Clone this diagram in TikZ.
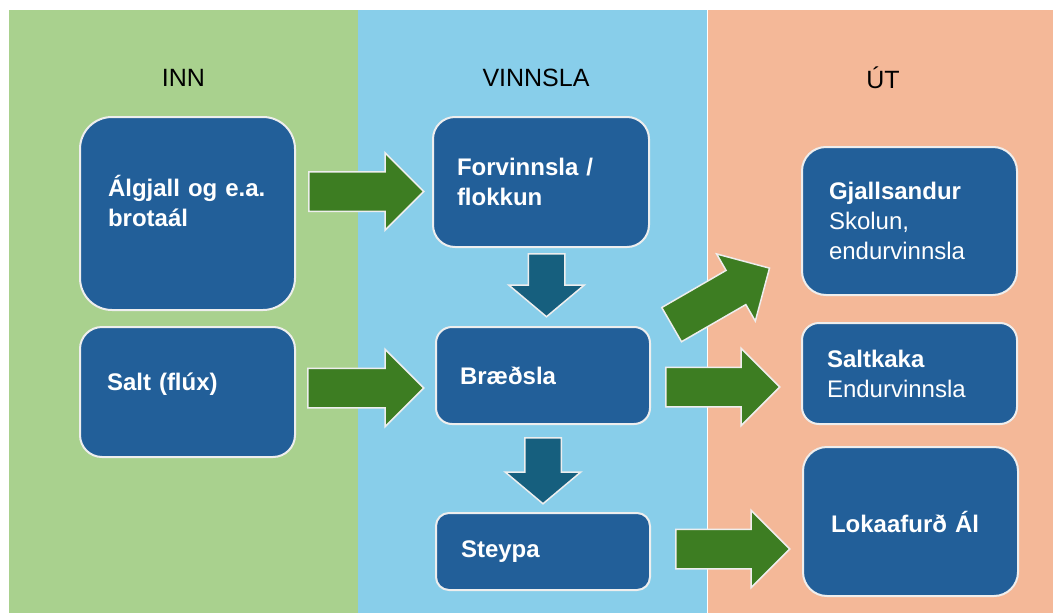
\documentclass[tikz,border=0pt]{standalone}
\usepackage{fontspec}
\setmainfont{Liberation Sans}
\usetikzlibrary{shapes.arrows}

\definecolor{innbg}{HTML}{A9D18E}
\definecolor{vinnbg}{HTML}{88CEEA}
\definecolor{utbg}{HTML}{F4B898}
\definecolor{boxblue}{HTML}{225F99}
\definecolor{edge}{HTML}{EEEEEE}
\definecolor{flowgreen}{HTML}{3D7D22}
\definecolor{flowteal}{HTML}{165F7E}

\begin{document}
\begin{tikzpicture}[x=1pt,y=-1pt,
   box/.style={draw=edge, line width=2pt, fill=boxblue, text=white, align=left,
     inner sep=0pt, font=\fontsize{24pt}{30pt}\selectfont},
   flow/.style={single arrow, draw=edge, line width=1.5pt, fill=flowgreen,
     inner xsep=0pt, inner ysep=19pt, single arrow head extend=19pt, anchor=tail},
   down/.style={flow, fill=flowteal, rotate=-90, inner ysep=17.5pt,
     single arrow head extend=19.5pt, single arrow tip angle=100},
   head/.style={font=\fontsize{25pt}{30pt}\selectfont}]

   \useasboundingbox (0,0) rectangle (1053,613);

   % three columns
   \fill[innbg]  (9,10)   rectangle (358,613);
   \fill[vinnbg] (358,10) rectangle (708,613);
   \fill[utbg]   (708,10) rectangle (1053,613);
   \draw[white, line width=1pt] (707.5,10) -- (707.5,613);

   \node[head] (inn)   at (183.5,78) {INN};
   \node[head] (vinn)  at (536,78)   {VINNSLA};
   \node[head] (ut)    at (883,78)   {ÚT};

   % INN
   \node[box, rounded corners=32pt, minimum width=215pt, minimum height=193pt,
     text width=159pt, text depth=56pt] (algjall) at (187.5,213.5)
     {\textbf{Álgjall og e.a.}\\\textbf{brotaál}};
   \node[box, rounded corners=22pt, minimum width=215pt, minimum height=130pt,
     text width=161pt, text depth=20pt] (salt) at (187.5,392)
     {\textbf{Salt (flúx)}};

   % VINNSLA
   \node[box, rounded corners=22pt, minimum width=216pt, minimum height=130pt,
     text width=168pt] (forv) at (541,182)
     {\textbf{Forvinnsla /}\\\textbf{flokkun}};
   \node[box, rounded corners=16pt, minimum width=214pt, minimum height=97pt,
     text width=166pt] (braedsla) at (543,375.5)
     {\textbf{Bræðsla}};
   \node[box, rounded corners=13pt, minimum width=214pt, minimum height=77pt,
     text width=164pt] (steypa) at (543,551.5)
     {\textbf{Steypa}};

   % UT
   \node[box, rounded corners=24pt, minimum width=215pt, minimum height=148pt,
     text width=161pt] (gjall) at (909.5,221)
     {\textbf{Gjallsandur}\\Skolun,\\endurvinnsla};
   \node[box, rounded corners=17pt, minimum width=215pt, minimum height=101pt,
     text width=165pt] (saltkaka) at (909.5,373.5)
     {\textbf{Saltkaka}\\Endurvinnsla};
   \node[box, rounded corners=24pt, minimum width=215pt, minimum height=149pt,
     text width=159pt] (loka) at (910.5,521.5)
     {\textbf{Lokaafurð Ál}};

   % block arrows, placed by their tails
   \node[flow, minimum height=115pt] (a1) at (308,191.5) {};
   \node[flow, minimum height=116pt] (a2) at (307,388) {};
   \node[down, minimum height=63pt] (d1) at (546.5,253) {};
   \node[down, minimum height=66pt] (d2) at (543,437) {};
   \node[flow, minimum height=113pt, rotate=30] (a3) at (671,325) {};
   \node[flow, minimum height=114pt] (a4) at (665,387) {};
   \node[flow, minimum height=114pt] (a5) at (675,549) {};

\end{tikzpicture}
\end{document}
